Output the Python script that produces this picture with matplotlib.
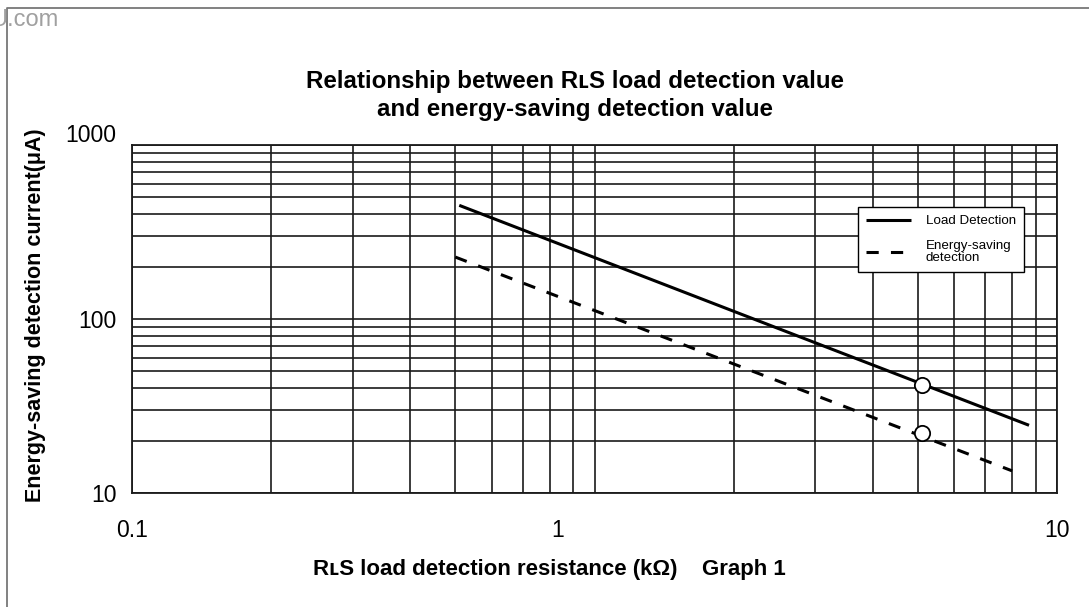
import matplotlib
matplotlib.use("Agg")
import matplotlib.pyplot as plt
from matplotlib.lines import Line2D
from matplotlib.transforms import ScaledTranslation

plt.rcParams['font.family'] = ['Liberation Sans', 'DejaVu Sans']

# ---- data ----
load_R = [0.51, 8.7]          # kOhm
load_I = [450, 24.5]          # uA
save_R = [0.50, 8.0]
save_I = [227, 13.4]
mark_R = [5.1, 5.1]
mark_I = [42, 22]

xticks = [0.1, 1, 10]
xtick_labels = ['0.1', '1', '10']
yticks = [10, 100, 1000]
ytick_labels = ['10', '100', '1000']

title = "Relationship between R\u029fS load detection value\nand energy-saving detection value"
xlabel = "R\u029fS load detection resistance (k\u03a9)    Graph 1"
ylabel = "Energy-saving detection current(\u03bcA)"
legend_labels = ["Load Detection", "Energy-saving\ndetection"]

W, H = 1089, 607
fig = plt.figure(figsize=(W / 100, H / 100), dpi=100)
ax = fig.add_axes([132 / W, 1 - 493 / H, (1057 - 132) / W, (493 - 145) / H])

ax.set_xscale('log')
ax.set_yscale('log')
ax.set_xlim(0.1, 10)
ax.set_ylim(10, 1000)

grid_c = '#1a1a1a'
ax.grid(True, which='both', color=grid_c, linewidth=1.2, zorder=0)
ax.set_axisbelow(True)
for s in ax.spines.values():
    s.set_color(grid_c)
    s.set_linewidth(1.3)

ax.set_xticks(xticks, labels=xtick_labels)
ax.set_yticks(yticks, labels=ytick_labels)
ax.tick_params(which='both', length=0)
ax.tick_params(axis='x', which='major', labelsize=16.5, pad=19)
ax.tick_params(axis='y', which='major', labelsize=16.5, pad=11)
ax.xaxis.set_minor_formatter(plt.NullFormatter())
ax.yaxis.set_minor_formatter(plt.NullFormatter())

# small label offsets as in the reference drawing
xt = ax.xaxis.get_major_ticks()
xt[1].label1.set_transform(xt[1].label1.get_transform()
                           + ScaledTranslation(-0.37, 0, fig.dpi_scale_trans))
yt = ax.yaxis.get_major_ticks()
yt[2].label1.set_transform(yt[2].label1.get_transform()
                           + ScaledTranslation(0, 0.12, fig.dpi_scale_trans))

l1, = ax.plot(load_R, load_I, color='black', lw=2.2, solid_capstyle='butt', zorder=3)
l2, = ax.plot(save_R, save_I, color='black', lw=2.2, dashes=[4, 4],
              dash_capstyle='butt', zorder=3)
ax.plot(mark_R, mark_I, linestyle='none', marker='o', markersize=11,
        markerfacecolor='white', markeredgecolor='black', markeredgewidth=1.3, zorder=4)

leg = ax.legend([l1, l2], legend_labels, loc='upper right',
                bbox_to_anchor=((1024 - 132) / 925, (493 - 207) / 348),
                fontsize=9.6, frameon=True, fancybox=False, shadow=False,
                handlelength=3.4, handletextpad=1.1, labelspacing=0.95,
                borderpad=0.6, borderaxespad=0, framealpha=1)
leg.get_texts()[1].set_linespacing(1.0)
leg.get_frame().set_edgecolor('black')
leg.get_frame().set_linewidth(1.0)
leg.set_zorder(5)

ax.set_title(title, fontsize=17.4, fontweight='bold', x=0.479, pad=21, linespacing=1.25)
ax.set_xlabel(xlabel, fontsize=16, fontweight='bold')
ax.xaxis.set_label_coords(0.451, -0.19)
ax.set_ylabel(ylabel, fontsize=15.5, fontweight='bold')
ax.yaxis.set_label_coords(-0.093, 0.511)

# page frame and cut-off watermark text
frame_c = '#777777'
fig.add_artist(Line2D([7 / W, 7 / W, 1.0], [0.0, 1 - 8 / H, 1 - 8 / H],
                      transform=fig.transFigure, color=frame_c, lw=1.3))
fig.text(-10 / W, 1 - 20 / H, "U.com", color='#a0a0a0', fontsize=17,
         ha='left', va='center')

fig.savefig('out.png', dpi=100)
